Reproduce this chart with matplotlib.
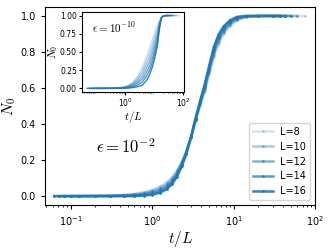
import matplotlib
matplotlib.use("Agg")
import matplotlib.pyplot as plt
import numpy as np
plt.rcParams['mathtext.fontset'] = 'cm'

nan = np.nan

# ---- main panel, eps = 1e-2 ------------------------------------------------
u_main = [0.0625, 0.071, 0.083, 0.1, 0.125, 0.2, 0.3, 0.45, 0.6, 0.8, 1.0, 1.25,
          1.5, 1.75, 2.0, 2.3, 2.6, 3.0, 3.4, 3.9, 4.4, 5.0, 5.7, 6.5, 7.5, 9.0,
          11, 14, 20, 30, 37.5, 43, 50, 60, 75]
L_main = [8, 10, 12, 14, 16]
n0_L8 = [nan, nan, nan, nan, 0.0, 0.0015, 0.003, 0.007, 0.013, 0.023, 0.036, 0.055,
         0.078, 0.107, 0.143, 0.194, 0.248, 0.33, 0.417, 0.505, 0.58, 0.675, 0.772,
         0.844, 0.898, 0.944, 0.975, 0.993, 0.999, 1.0, 1.0, 1.0, 1.0, 1.0, 1.0]
n0_L10 = [nan, nan, nan, 0.0, 0.0, 0.001, 0.002, 0.005, 0.0095, 0.018, 0.029, 0.046,
          0.068, 0.097, 0.134, 0.187, 0.244, 0.33, 0.421, 0.512, 0.59, 0.687, 0.786,
          0.857, 0.909, 0.952, 0.98, 0.995, 0.9995, 1.0, 1.0, 1.0, 1.0, 1.0, nan]
n0_L12 = [nan, nan, 0.0, 0.0, 0.0, 0.0005, 0.001, 0.003, 0.006, 0.013, 0.022, 0.037,
          0.058, 0.087, 0.125, 0.18, 0.24, 0.33, 0.425, 0.52, 0.60, 0.70, 0.80,
          0.87, 0.92, 0.96, 0.985, 0.997, 1.0, 1.0, 1.0, 1.0, 1.0, nan, nan]
n0_L14 = [nan, 0.0, 0.0, 0.0, 0.0, 0.0, 0.0, 0.001, 0.0025, 0.008, 0.015, 0.028,
          0.048, 0.077, 0.116, 0.173, 0.236, 0.33, 0.429, 0.527, 0.61, 0.712, 0.814,
          0.883, 0.931, 0.968, 0.99, 0.999, 1.0, 1.0, 1.0, 1.0, nan, nan, nan]
n0_L16 = [0.0, 0.0, 0.0, 0.0, 0.0, 0.0, 0.0, 0.0, 0.0, 0.003, 0.008, 0.019,
          0.038, 0.067, 0.107, 0.166, 0.232, 0.33, 0.433, 0.535, 0.62, 0.725, 0.828,
          0.896, 0.942, 0.976, 0.995, 1.0, 1.0, 1.0, 1.0, nan, nan, nan, nan]
n0_main = [n0_L8, n0_L10, n0_L12, n0_L14, n0_L16]

# ---- inset, eps = 1e-10 ----------------------------------------------------
u_ins = [0.05, 0.056, 0.0625, 0.071, 0.083, 0.1, 0.125, 0.2, 0.4, 0.7, 1.0, 1.4,
         2.0, 2.8, 4.0, 5.5, 7.0, 9.0, 11, 13, 15, 17.5, 20, 25, 30, 33, 37.5,
         43, 50, 60, 75]
L_ins = [8, 10, 12, 14, 16, 18, 20]
ins_L8 = [nan, nan, nan, nan, nan, nan, 0.0, 0.0, 0.003, 0.012, 0.025, 0.05,
          0.10, 0.18, 0.30, 0.45, 0.56, 0.69, 0.80, 0.87, 0.925, 0.965, 0.99, 1.0,
          1.0, 1.0, 1.0, 1.0, 1.0, 1.0, 1.0]
ins_L10 = [nan, nan, nan, nan, nan, 0.0, 0.0, 0.0, 0.0025, 0.010, 0.021, 0.0425,
           0.085, 0.154, 0.257, 0.393, 0.497, 0.627, 0.742, 0.823, 0.904, 0.965, 0.99,
           1.0, 1.0, 1.0, 1.0, 1.0, 1.0, 1.0, nan]
ins_L12 = [nan, nan, nan, nan, 0.0, 0.0, 0.0, 0.0, 0.002, 0.008, 0.017, 0.035,
           0.071, 0.128, 0.215, 0.337, 0.435, 0.563, 0.683, 0.777, 0.883, 0.965, 0.99,
           1.0, 1.0, 1.0, 1.0, 1.0, 1.0, nan, nan]
ins_L14 = [nan, nan, nan, 0.0, 0.0, 0.0, 0.0, 0.0, 0.0015, 0.006, 0.014, 0.0275,
           0.056, 0.102, 0.172, 0.28, 0.372, 0.50, 0.625, 0.73, 0.862, 0.965, 0.99,
           1.0, 1.0, 1.0, 1.0, 1.0, nan, nan, nan]
ins_L16 = [nan, nan, 0.0, 0.0, 0.0, 0.0, 0.0, 0.0, 0.001, 0.004, 0.010, 0.02,
           0.041, 0.077, 0.13, 0.223, 0.31, 0.437, 0.567, 0.683, 0.842, 0.965, 0.99,
           1.0, 1.0, 1.0, 1.0, nan, nan, nan, nan]
ins_L18 = [nan, 0.0, 0.0, 0.0, 0.0, 0.0, 0.0, 0.0, 0.0005, 0.002, 0.006, 0.0125,
           0.027, 0.051, 0.0875, 0.167, 0.247, 0.373, 0.508, 0.637, 0.821, 0.965, 0.99,
           1.0, 1.0, 1.0, nan, nan, nan, nan, nan]
ins_L20 = [0.0, 0.0, 0.0, 0.0, 0.0, 0.0, 0.0, 0.0, 0.0, 0.0, 0.002, 0.005,
           0.012, 0.025, 0.045, 0.11, 0.185, 0.31, 0.45, 0.59, 0.80, 0.965, 0.99,
           1.0, 1.0, nan, nan, nan, nan, nan, nan]
n0_ins = [ins_L8, ins_L10, ins_L12, ins_L14, ins_L16, ins_L18, ins_L20]

blue = '#1f77b4'

fig = plt.figure(figsize=(3.3, 2.48), dpi=100)
ax = fig.add_axes([0.136, 0.173, 0.819, 0.799])
alphas = np.linspace(0.2, 0.9, len(L_main))
for L, y, a in zip(L_main, n0_main, alphas):
    ax.plot(u_main, y, color=blue, alpha=a, lw=1.8, marker='.', ms=2,
            label='L=%d' % L)
ax.set_xscale('log')
ax.set_xlim(10**-1.32, 10**2.0)
ax.set_ylim(-0.05, 1.05)
ax.set_yticks([0.0, 0.2, 0.4, 0.6, 0.8, 1.0])
ax.tick_params(labelsize=7, length=3)
ax.tick_params(which='minor', length=1.5)
ax.set_xlabel('$t/L$', fontsize=11, labelpad=1)
ax.set_ylabel('$N_0$', fontsize=11, labelpad=2)
ax.text(0.19, 0.29, r'$\epsilon=10^{-2}$', transform=ax.transAxes,
        fontsize=12, ha='left', va='center')
ax.legend(loc='lower right', fontsize=7)

ins = fig.add_axes([0.248, 0.629, 0.31, 0.323])
alphas_i = np.linspace(0.2, 0.9, len(L_ins))
for L, y, a in zip(L_ins, n0_ins, alphas_i):
    ins.plot(u_ins, y, color=blue, alpha=a, lw=1.0)
ins.set_xscale('log')
ins.set_xlim(10**-1.48, 10**2.03)
ins.set_ylim(-0.05, 1.05)
ins.set_yticks([0.0, 0.25, 0.5, 0.75, 1.0])
ins.set_xticks([1, 100])
ins.tick_params(labelsize=5.5, length=2, pad=1.5)
ins.tick_params(which='minor', length=1)
ins.set_xlabel('$t/L$', fontsize=8, labelpad=0)
ins.set_ylabel('$N_0$', fontsize=8, labelpad=0)
ins.text(0.1, 0.8, r'$\epsilon=10^{-10}$', transform=ins.transAxes,
         fontsize=8, ha='left', va='center')

plt.savefig('out.png')
